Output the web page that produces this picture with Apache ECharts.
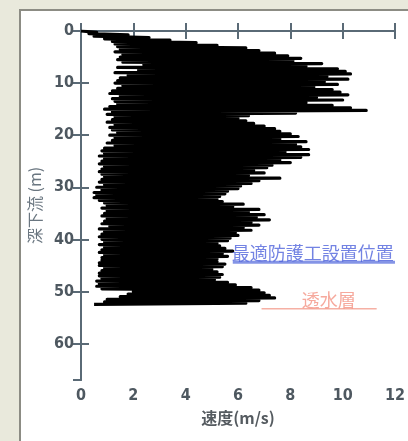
<!DOCTYPE html>
<html>
<head>
<meta charset="utf-8">
<script src="https://cdn.jsdelivr.net/npm/echarts@6/dist/echarts.min.js"></script>
<style>
  html, body { margin: 0; padding: 0; background: #e9e9dc; }
  #panel { position: absolute; left: 19px; top: 9px; width: 400px; height: 440px;
           background: #fff; border-left: 2px solid #8c8c84; border-top: 2px solid #8c8c84; }
  #chart { position: absolute; left: 0; top: 0; width: 408px; height: 441px; }
</style>
</head>
<body>
<div id="panel"></div>
<div id="chart"></div>
<script>
// depth (m), sampled every 0.25 m
var depths = [
  0, 0.25, 0.5, 0.75, 1, 1.25, 1.5, 1.75,
  2, 2.25, 2.5, 2.75, 3, 3.25, 3.5, 3.75,
  4, 4.25, 4.5, 4.75, 5, 5.25, 5.5, 5.75,
  6, 6.25, 6.5, 6.75, 7, 7.25, 7.5, 7.75,
  8, 8.25, 8.5, 8.75, 9, 9.25, 9.5, 9.75,
  10, 10.25, 10.5, 10.75, 11, 11.25, 11.5, 11.75,
  12, 12.25, 12.5, 12.75, 13, 13.25, 13.5, 13.75,
  14, 14.25, 14.5, 14.75, 15, 15.25, 15.5, 15.75,
  16, 16.25, 16.5, 16.75, 17, 17.25, 17.5, 17.75,
  18, 18.25, 18.5, 18.75, 19, 19.25, 19.5, 19.75,
  20, 20.25, 20.5, 20.75, 21, 21.25, 21.5, 21.75,
  22, 22.25, 22.5, 22.75, 23, 23.25, 23.5, 23.75,
  24, 24.25, 24.5, 24.75, 25, 25.25, 25.5, 25.75,
  26, 26.25, 26.5, 26.75, 27, 27.25, 27.5, 27.75,
  28, 28.25, 28.5, 28.75, 29, 29.25, 29.5, 29.75,
  30, 30.25, 30.5, 30.75, 31, 31.25, 31.5, 31.75,
  32, 32.25, 32.5, 32.75, 33, 33.25, 33.5, 33.75,
  34, 34.25, 34.5, 34.75, 35, 35.25, 35.5, 35.75,
  36, 36.25, 36.5, 36.75, 37, 37.25, 37.5, 37.75,
  38, 38.25, 38.5, 38.75, 39, 39.25, 39.5, 39.75,
  40, 40.25, 40.5, 40.75, 41, 41.25, 41.5, 41.75,
  42, 42.25, 42.5, 42.75, 43, 43.25, 43.5, 43.75,
  44, 44.25, 44.5, 44.75, 45, 45.25, 45.5, 45.75,
  46, 46.25, 46.5, 46.75, 47, 47.25, 47.5, 47.75,
  48, 48.25, 48.5, 48.75, 49, 49.25, 49.5, 49.75,
  50, 50.25, 50.5, 50.75, 51, 51.25, 51.5, 51.75,
  52, 52.25, 52.5
];

// velocity (m/s), one row per metre
var speeds = [
  0, 0.6, 0.3, 1.8,
  0.5, 2.6, 0.9, 3.4,
  1.2, 4.4, 1.3, 5.2,
  1.4, 6.3, 1.5, 6.8,
  1.3, 7.4, 1.6, 7.9,
  1.5, 8.4, 1.4, 8.1,
  1.6, 9.2, 2.4, 8.6,
  1.4, 9.8, 2.2, 10.1,
  1.3, 10.3, 1.8, 9.4,
  1.5, 10.2, 1.4, 9.3,
  1.3, 9.8, 1.6, 8.9,
  1.4, 9.6, 1.2, 9.9,
  1.1, 10.2, 1.5, 9.0,
  1.2, 10.0, 1.3, 8.6,
  1.4, 9.6, 1.1, 10.3,
  0.9, 10.9, 1.2, 8.2,
  1.0, 6.4, 1.3, 6.0,
  1.2, 6.3, 1.0, 6.6,
  1.3, 7.0, 1.1, 7.4,
  1.2, 7.6, 1.4, 8.0,
  1.1, 8.3, 1.3, 7.6,
  1.2, 8.6, 1.0, 8.2,
  1.3, 8.4, 0.9, 8.7,
  0.8, 7.8, 0.9, 8.7,
  0.7, 8.4, 0.9, 7.6,
  0.8, 8.0, 0.7, 7.3,
  0.9, 7.1, 0.8, 6.6,
  0.7, 7.0, 0.8, 6.4,
  0.9, 7.6, 0.8, 6.8,
  0.7, 6.5, 0.9, 6.1,
  0.6, 6.0, 0.8, 5.6,
  0.5, 5.5, 0.6, 5.3,
  0.5, 5.2, 0.7, 5.4,
  0.9, 6.2, 1.0, 5.8,
  0.8, 6.8, 1.0, 6.4,
  0.9, 7.0, 0.8, 6.7,
  1.0, 7.2, 0.9, 6.5,
  0.8, 6.8, 1.1, 6.2,
  0.7, 6.5, 0.9, 5.9,
  0.8, 6.0, 0.7, 5.7,
  0.8, 5.6, 0.9, 5.2,
  0.7, 5.3, 0.9, 5.5,
  0.8, 5.8, 0.7, 5.4,
  0.9, 5.6, 0.8, 5.2,
  0.8, 5.2, 0.7, 5.5,
  0.7, 5.4, 0.9, 5.0,
  0.8, 5.2, 0.7, 5.4,
  0.7, 5.3, 0.8, 5.1,
  0.6, 5.6, 0.7, 5.9,
  0.6, 6.5, 0.8, 6.8,
  2.0, 7.0, 1.8, 7.2,
  1.5, 7.4, 1.0, 6.8,
  0.9, 6.3, 0.5
];

var xTicks = [0, 12, 2];   // min, max, interval
var yTicks = [0, 67, 10];

// annotation lines: [from speed, to speed, depth]
var protectLine = [5.8, 12, 44.4];
var permeableLine = [6.9, 11.3, 53.3];
// annotation labels: [speed, depth, text]
var protectLabel = [8.86, 42.7, '最適防護工設置位置'];
var permeableLabel = [9.47, 51.7, '透水層'];

var profile = depths.map(function (d, i) { return [speeds[i], d]; });

var axisColor = '#5a6a76';
var numFont = "'Liberation Sans Narrow', 'DejaVu Sans Condensed', sans-serif";
var cjkFont = "'Noto Sans CJK JP', sans-serif";

var chart = echarts.init(document.getElementById('chart'));
chart.setOption({
  backgroundColor: 'transparent',
  animation: false,
  grid: { left: 81, top: 31, right: 11, bottom: 61 },
  xAxis: [{
    type: 'value', min: xTicks[0], max: xTicks[1], interval: xTicks[2],
    position: 'bottom',
    name: '速度(m/s)', nameLocation: 'middle', nameGap: 30,
    nameTextStyle: { fontFamily: cjkFont, fontSize: 16, fontWeight: 'bold', color: '#555b60' },
    axisLine: { lineStyle: { color: axisColor, width: 2 } },
    axisTick: { inside: true, length: 8, lineStyle: { color: axisColor, width: 2 } },
    axisLabel: { fontFamily: numFont, fontSize: 16, fontWeight: 'bold', color: '#4e5860', margin: 8 },
    splitLine: { show: false }
  }, {
    type: 'value', min: xTicks[0], max: xTicks[1], interval: xTicks[2],
    position: 'top',
    axisLine: { show: true, lineStyle: { color: axisColor, width: 2 } },
    axisTick: { show: true, inside: true, length: 8, lineStyle: { color: axisColor, width: 2 } },
    axisLabel: { show: false },
    splitLine: { show: false }
  }],
  yAxis: [{
    type: 'value', inverse: true, min: yTicks[0], max: yTicks[1], interval: yTicks[2],
    position: 'left',
    name: '深下流 (m)', nameLocation: 'middle', nameGap: 34, nameRotate: 90,
    nameTextStyle: { fontFamily: cjkFont, fontSize: 16, color: '#6a7680' },
    axisLine: { lineStyle: { color: axisColor, width: 2 } },
    axisTick: { inside: true, length: 8, lineStyle: { color: axisColor, width: 2 } },
    axisLabel: { fontFamily: numFont, fontSize: 16, fontWeight: 'bold', color: '#4e5860', margin: 7,
                 showMaxLabel: false },
    splitLine: { show: false }
  }, {
    type: 'value', inverse: true, min: yTicks[0], max: yTicks[1], interval: yTicks[2],
    position: 'right',
    axisLine: { show: true, lineStyle: { color: axisColor, width: 2 } },
    axisTick: { show: true, inside: true, length: 8, lineStyle: { color: axisColor, width: 2 } },
    axisLabel: { show: false },
    splitLine: { show: false }
  }],
  series: [{
    type: 'line',
    data: profile,
    showSymbol: false,
    symbol: 'none',
    lineStyle: { color: '#000', width: 3.2, join: 'round' },
    z: 3
  }, {
    type: 'line',
    data: [[protectLine[0], protectLine[2]], [protectLine[1], protectLine[2]]],
    symbol: 'none',
    lineStyle: { color: '#8494e6', width: 3 },
    z: 2
  }, {
    type: 'line',
    data: [[permeableLine[0], permeableLine[2]], [permeableLine[1], permeableLine[2]]],
    symbol: 'none',
    lineStyle: { color: '#f6b0a4', width: 1.5 },
    z: 2
  }, {
    type: 'scatter',
    symbolSize: 0,
    data: [
      { value: [protectLabel[0], protectLabel[1]], label: { formatter: protectLabel[2], color: '#5064dc' } },
      { value: [permeableLabel[0], permeableLabel[1]], label: { formatter: permeableLabel[2], color: '#f49484' } }
    ],
    label: { show: true, position: 'inside', fontFamily: cjkFont, fontSize: 18 },
    z: 4
  }]
});
</script>
</body>
</html>
